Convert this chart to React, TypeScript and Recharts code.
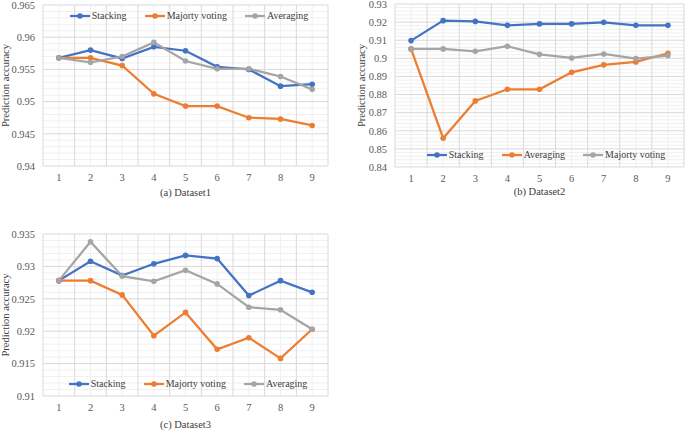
import { LineChart, Line, XAxis, YAxis, CartesianGrid, Legend } from "recharts";

// x categories (run index)
const runs = [1, 2, 3, 4, 5, 6, 7, 8, 9];

// (a) Dataset1
const d1Stacking = [0.9568, 0.958, 0.9567, 0.9585, 0.9579, 0.9554, 0.955, 0.9524, 0.9527];
const d1Majority = [0.9568, 0.9568, 0.9556, 0.9512, 0.9493, 0.9493, 0.9475, 0.9473, 0.9463];
const d1Averaging = [0.9568, 0.9561, 0.957, 0.9592, 0.9563, 0.9551, 0.9551, 0.9539, 0.9519];
const d1Ticks = [0.94, 0.945, 0.95, 0.955, 0.96, 0.965];

// (b) Dataset2
const d2Stacking = [0.9098, 0.9208, 0.9204, 0.9182, 0.919, 0.919, 0.9199, 0.9182, 0.9182];
const d2Averaging = [0.9052, 0.8559, 0.8765, 0.8829, 0.8829, 0.8923, 0.8964, 0.898, 0.9028];
const d2Majority = [0.9052, 0.9052, 0.9039, 0.9067, 0.9022, 0.9002, 0.9024, 0.8999, 0.9015];
const d2Ticks = [0.84, 0.85, 0.86, 0.87, 0.88, 0.89, 0.9, 0.91, 0.92, 0.93];

// (c) Dataset3
const d3Stacking = [0.9278, 0.9308, 0.9286, 0.9304, 0.9317, 0.9312, 0.9255, 0.9278, 0.926];
const d3Majority = [0.9278, 0.9278, 0.9256, 0.9193, 0.9229, 0.9172, 0.919, 0.9158, 0.9203];
const d3Averaging = [0.9278, 0.9338, 0.9285, 0.9277, 0.9294, 0.9273, 0.9237, 0.9233, 0.9203];
const d3Ticks = [0.91, 0.915, 0.92, 0.925, 0.93, 0.935];

const BLUE = "#4472C4";
const ORANGE = "#ED7D31";
const GRAY = "#A5A5A5";
const FONT = "Liberation Serif, serif";

type Series = { key: string; name: string; color: string; values: number[] };

// gridline positions between major ticks (Excel default: 5 minor per major)
function minorLines(ticks: number[]) {
  const out: number[] = [];
  for (let i = 0; i < ticks.length - 1; i++) {
    const step = (ticks[i + 1] - ticks[i]) / 5;
    for (let k = 1; k < 5; k++) out.push(Math.round((ticks[i] + step * k) * 1e6) / 1e6);
  }
  return out;
}

const bandEdges = runs.map((r) => r - 0.5).concat(runs[runs.length - 1] + 0.5);

// legend keeps the series order of the panel (recharts sorts by name otherwise)
const makeLegend = (series: Series[]) => () => (
  <div
    style={{
      display: "flex",
      justifyContent: "center",
      alignItems: "center",
      fontFamily: FONT,
      fontSize: 10,
      color: "#404040",
      lineHeight: "12px",
    }}
  >
    {series.map((s, i) => (
      <div
        key={s.key}
        style={{ display: "flex", alignItems: "center", marginRight: i < series.length - 1 ? 18 : 0 }}
      >
        <svg width={20} height={8}>
          <line x1={0} y1={4} x2={20} y2={4} stroke={s.color} strokeWidth={2.25} />
          <circle cx={10} cy={4} r={2.8} fill={s.color} />
        </svg>
        <span style={{ marginLeft: 2 }}>{s.name}</span>
      </div>
    ))}
  </div>
);

function Panel(p: {
  left: number;
  top: number;
  width: number;
  height: number;
  marginTop: number;
  marginRight: number;
  yWidth: number;
  xHeight: number;
  ticks: number[];
  series: Series[];
  caption: string;
  captionOffset: number;
  titleOffset: number;
  legendLeft: number;
  legendTop: number;
}) {
  const data = runs.map((run, i) => {
    const row: any = { run };
    p.series.forEach((s) => (row[s.key] = s.values[i]));
    return row;
  });
  const tickStyle = { fontFamily: FONT, fontSize: 10.5, fill: "#595959" };
  return (
    <div style={{ position: "absolute", left: p.left, top: p.top }}>
      <LineChart
        width={p.width}
        height={p.height}
        data={data}
        margin={{ top: p.marginTop, right: p.marginRight, left: 0, bottom: 0 }}
      >
        <CartesianGrid stroke="#F0F0F0" horizontalValues={minorLines(p.ticks)} verticalValues={runs} />
        <CartesianGrid stroke="#D9D9D9" horizontalValues={p.ticks} verticalValues={bandEdges} />
        <XAxis
          type="number"
          dataKey="run"
          domain={[bandEdges[0], bandEdges[bandEdges.length - 1]]}
          ticks={runs}
          interval={0}
          axisLine={false}
          tickLine={false}
          height={p.xHeight}
          tick={tickStyle}
          label={{
            value: p.caption,
            position: "insideBottom",
            offset: p.captionOffset,
            style: { fontFamily: FONT, fontSize: 10.5, fill: "#404040" },
          }}
        />
        <YAxis
          type="number"
          domain={[p.ticks[0], p.ticks[p.ticks.length - 1]]}
          ticks={p.ticks}
          interval={0}
          axisLine={false}
          tickLine={false}
          width={p.yWidth}
          tick={tickStyle}
          label={{
            value: "Prediction accuracy",
            angle: -90,
            position: "insideLeft",
            offset: p.titleOffset,
            style: { fontFamily: FONT, fontSize: 10.5, fill: "#404040", textAnchor: "middle" },
          }}
        />
        <Legend
          layout="vertical"
          verticalAlign="middle"
          align="center"
          content={makeLegend(p.series)}
          wrapperStyle={{ left: p.legendLeft, top: p.legendTop, width: 300 }}
        />
        {p.series.map((s) => (
          <Line
            key={s.key}
            type="linear"
            dataKey={s.key}
            name={s.name}
            stroke={s.color}
            strokeWidth={2.25}
            dot={{ r: 2.8, fill: s.color, stroke: s.color, strokeWidth: 0 }}
            activeDot={false}
            isAnimationActive={false}
          />
        ))}
      </LineChart>
    </div>
  );
}

export default function App() {
  return (
    <div style={{ position: "absolute", left: 0, top: 0, width: 685, height: 432, background: "#fff" }}>
      <Panel
        left={0}
        top={0}
        width={340}
        height={215}
        marginTop={5}
        marginRight={12}
        yWidth={43}
        xHeight={49}
        ticks={d1Ticks}
        series={[
          { key: "stacking", name: "Stacking", color: BLUE, values: d1Stacking },
          { key: "majority", name: "Majorty voting", color: ORANGE, values: d1Majority },
          { key: "averaging", name: "Averaging", color: GRAY, values: d1Averaging },
        ]}
        caption="(a) Dataset1"
        captionOffset={19}
        titleOffset={5}
        legendLeft={39}
        legendTop={10}
      />
      <Panel
        left={340}
        top={0}
        width={345}
        height={215}
        marginTop={4}
        marginRight={1}
        yWidth={55}
        xHeight={48}
        ticks={d2Ticks}
        series={[
          { key: "stacking", name: "Stacking", color: BLUE, values: d2Stacking },
          { key: "averaging", name: "Averaging", color: ORANGE, values: d2Averaging },
          { key: "majority", name: "Majorty voting", color: GRAY, values: d2Majority },
        ]}
        caption="(b) Dataset2"
        captionOffset={20}
        titleOffset={21}
        legendLeft={56}
        legendTop={149}
      />
      <Panel
        left={0}
        top={215}
        width={340}
        height={217}
        marginTop={19}
        marginRight={12}
        yWidth={43}
        xHeight={36}
        ticks={d3Ticks}
        series={[
          { key: "stacking", name: "Stacking", color: BLUE, values: d3Stacking },
          { key: "majority", name: "Majorty voting", color: ORANGE, values: d3Majority },
          { key: "averaging", name: "Averaging", color: GRAY, values: d3Averaging },
        ]}
        caption="(c) Dataset3"
        captionOffset={4}
        titleOffset={5}
        legendLeft={38}
        legendTop={163}
      />
    </div>
  );
}
